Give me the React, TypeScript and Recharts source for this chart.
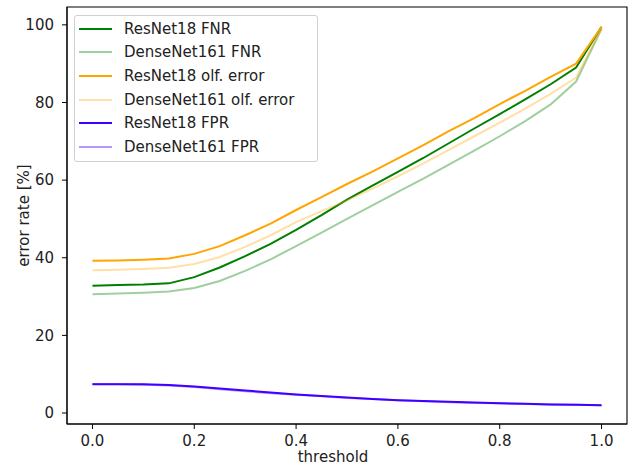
import { LineChart, Line, XAxis, YAxis, ReferenceArea, Legend } from 'recharts';

const thresholds = [0, 0.05, 0.1, 0.15, 0.2, 0.25, 0.3, 0.35, 0.4, 0.45, 0.5, 0.55, 0.6, 0.65, 0.7, 0.75, 0.8, 0.85, 0.9, 0.95, 1.0];

const resnetFnr = [32.8, 33.0, 33.1, 33.4, 35.0, 37.5, 40.4, 43.6, 47.2, 51.0, 55.0, 58.6, 62.1, 65.7, 69.5, 73.3, 77.0, 80.8, 84.7, 89.0, 99.5];
const denseFnr = [30.6, 30.8, 31.0, 31.3, 32.2, 34.0, 36.6, 39.6, 43.0, 46.5, 50.0, 53.5, 57.0, 60.4, 64.0, 67.6, 71.3, 75.2, 79.5, 85.4, 99.0];
const resnetOlf = [39.2, 39.3, 39.5, 39.8, 41.0, 43.0, 45.8, 48.8, 52.3, 55.6, 59.0, 62.2, 65.6, 69.0, 72.6, 76.0, 79.6, 83.0, 86.6, 90.0, 99.5];
const denseOlf = [36.8, 36.9, 37.1, 37.4, 38.4, 40.2, 42.8, 45.8, 49.2, 52.0, 54.8, 57.8, 61.0, 64.3, 67.8, 71.3, 74.8, 78.4, 82.2, 86.4, 99.2];
const resnetFpr = [7.4, 7.4, 7.4, 7.2, 6.8, 6.3, 5.8, 5.3, 4.8, 4.4, 4.0, 3.6, 3.3, 3.1, 2.9, 2.7, 2.5, 2.4, 2.2, 2.1, 2.0];
const denseFpr = [7.5, 7.5, 7.3, 7.1, 6.7, 6.1, 5.6, 5.1, 4.7, 4.3, 3.9, 3.6, 3.3, 3.0, 2.8, 2.6, 2.5, 2.3, 2.2, 2.1, 2.0];

const xTicks = [0, 0.2, 0.4, 0.6, 0.8, 1.0];
const yTicks = [0, 20, 40, 60, 80, 100];

const series = [
  { key: 'resnetFnr', name: 'ResNet18 FNR', color: '#008000', opacity: 1 },
  { key: 'denseFnr', name: 'DenseNet161 FNR', color: '#008000', opacity: 0.38 },
  { key: 'resnetOlf', name: 'ResNet18 olf. error', color: '#ffa500', opacity: 1 },
  { key: 'denseOlf', name: 'DenseNet161 olf. error', color: '#ffa500', opacity: 0.35 },
  { key: 'resnetFpr', name: 'ResNet18 FPR', color: '#4000ff', opacity: 1 },
  { key: 'denseFpr', name: 'DenseNet161 FPR', color: '#4000ff', opacity: 0.4 },
];

const data = thresholds.map((x, i) => ({
  x,
  resnetFnr: resnetFnr[i],
  denseFnr: denseFnr[i],
  resnetOlf: resnetOlf[i],
  denseOlf: denseOlf[i],
  resnetFpr: resnetFpr[i],
  denseFpr: denseFpr[i],
}));

const FONT = '"DejaVu Sans", sans-serif';
const X_DOMAIN: [number, number] = [-0.05, 1.05];
const Y_DOMAIN: [number, number] = [-2.83, 104.6];

function hexAlpha(hex: string, a: number) {
  const r = parseInt(hex.slice(1, 3), 16);
  const g = parseInt(hex.slice(3, 5), 16);
  const b = parseInt(hex.slice(5, 7), 16);
  return `rgba(${r},${g},${b},${a})`;
}

const LegendBox = () => (
  <div
    style={{
      border: '1px solid #d0d0d0',
      borderRadius: 3,
      background: 'rgba(255,255,255,0.8)',
      padding: '1px 8px 2px 0',
      fontFamily: FONT,
      fontSize: 15,
      color: '#222',
      width: 234,
      boxSizing: 'content-box',
    }}
  >
    {series.map(s => (
      <div key={s.key} style={{ display: 'flex', alignItems: 'center', height: 23.6 }}>
        <span
          style={{
            display: 'inline-block',
            width: 33,
            height: 2,
            marginLeft: 4,
            marginRight: 12,
            background: hexAlpha(s.color, s.opacity),
          }}
        />
        <span style={{ whiteSpace: 'nowrap' }}>{s.name}</span>
      </div>
    ))}
  </div>
);

const XTitle = (props: any) => {
  const vb = props.viewBox || { x: 67, width: 560 };
  return (
    <text x={vb.x + vb.width / 2 - 14} y={462} textAnchor="middle" fontFamily={FONT} fontSize={15} fill="#222">
      threshold
    </text>
  );
};

const YTitle = () => (
  <text
    x={24}
    y={215.5}
    transform="rotate(-90, 24, 215.5)"
    textAnchor="middle"
    dominantBaseline="central"
    fontFamily={FONT}
    fontSize={15}
    fill="#222"
  >
    error rate [%]
  </text>
);

export default function App() {
  return (
    <div style={{ position: 'fixed', left: 0, top: 0, width: 635, height: 465, background: '#fff' }}>
      <LineChart width={635} height={465} data={data} margin={{ top: 7, right: 8, bottom: 11, left: 7 }}>
        <XAxis
          dataKey="x"
          type="number"
          domain={X_DOMAIN}
          ticks={xTicks}
          allowDataOverflow
          tickFormatter={(v: number) => v.toFixed(1)}
          tickSize={5}
          tickMargin={6}
          height={30}
          stroke="#000"
          tick={{ fontSize: 15, fontFamily: FONT, fill: '#222' }}
          label={<XTitle />}
        />
        <YAxis
          type="number"
          domain={Y_DOMAIN}
          ticks={yTicks}
          allowDataOverflow
          tickSize={5}
          tickMargin={8}
          width={60}
          stroke="#000"
          tick={{ fontSize: 15, fontFamily: FONT, fill: '#222' }}
          label={<YTitle />}
        />
        <ReferenceArea
          x1={X_DOMAIN[0]}
          x2={X_DOMAIN[1]}
          y1={Y_DOMAIN[0]}
          y2={Y_DOMAIN[1]}
          fill="none"
          stroke="#000"
          strokeWidth={1.1}
          ifOverflow="visible"
        />
        {series.map(s => (
          <Line
            key={s.key}
            type="linear"
            dataKey={s.key}
            name={s.name}
            stroke={s.color}
            strokeOpacity={s.opacity}
            strokeWidth={2}
            dot={false}
            activeDot={false}
            isAnimationActive={false}
          />
        ))}
        <Legend
          layout="horizontal"
          verticalAlign="middle"
          align="center"
          content={<LegendBox />}
          wrapperStyle={{ left: 74, top: 15, width: 'auto' }}
        />
      </LineChart>
    </div>
  );
}
